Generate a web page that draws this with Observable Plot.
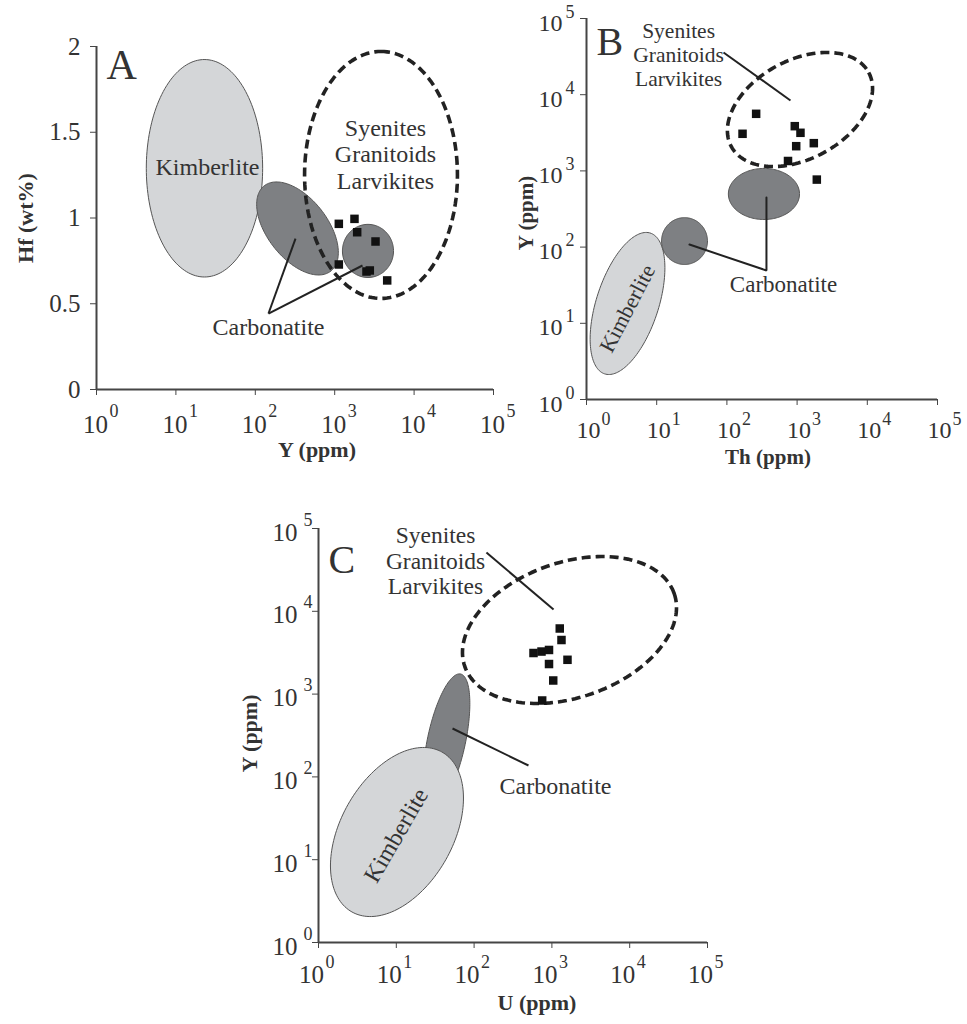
<!DOCTYPE html>
<html><head><meta charset="utf-8">
<script src="https://cdn.jsdelivr.net/npm/d3@7"></script>
<script src="https://cdn.jsdelivr.net/npm/@observablehq/plot@0.6"></script>
<style>
body{margin:0;background:#fff;}
#wrap{position:relative;width:967px;height:1024px;background:#fff;}
#wrap svg{position:absolute;overflow:visible;}
</style></head><body><div id="wrap"></div>
<script>
// ---------- data ----------
const decades = [1, 10, 100, 1000, 10000, 100000];
const decadeBase = ["10", "10", "10", "10", "10", "10"];
const decadeExp = ["0", "1", "2", "3", "4", "5"];
const hfTicks = [0, 0.5, 1, 1.5, 2];
const hfTickLabels = ["0", "0.5", "1", "1.5", "2"];

// Panel A: Y (ppm) vs Hf (wt%)
const samplesA_Y  = [1127, 1775, 1919, 3266, 1127, 2513, 2767, 4583];
const samplesA_Hf = [0.966, 0.995, 0.917, 0.863, 0.729, 0.688, 0.694, 0.636];
// Panel B: Th (ppm) vs Y (ppm)
const samplesB_Th = [167, 261, 927, 1117, 971, 1730, 742, 1909];
const samplesB_Y  = [3069, 5613, 3863, 3162, 2110, 2312, 1349, 769];
// Panel C: U (ppm) vs Y (ppm)
const samplesC_U = [1262, 1328, 580, 735, 918, 1586, 918, 1040, 750];
const samplesC_Y = [6200, 4500, 3135, 3266, 3412, 2596, 2308, 1460, 837];

// Compositional fields: centre (cx, cy), end of one semi-axis (ex, ey),
// ratio of the other semi-axis to that one
const fieldsA = [
  {kind: "kimberlite",  cx: 22.9, cy: 1.29,  ex: 22.9, ey: 1.924, ratio: 0.535},
  {kind: "carbonatite", cx: 340,  cy: 0.939, ex: 891,  ey: 0.690, ratio: 0.556},
  {kind: "felsic",      cx: 3830, cy: 1.251, ex: 3830, ey: 1.971, ratio: 0.619},
  {kind: "carbonatite", cx: 2625, cy: 0.808, ex: 5505, ey: 0.808, ratio: 1.04}
];
const fieldsB = [
  {kind: "kimberlite",  cx: 3.84, cy: 18.2, ex: 8.13,  ey: 152.7, ratio: 0.42},
  {kind: "carbonatite", cx: 24.9, cy: 120,  ex: 52.9,  ey: 120,   ratio: 1.02},
  {kind: "carbonatite", cx: 337,  cy: 498,  ex: 1082,  ey: 498,   ratio: 0.718},
  {kind: "felsic",      cx: 1099, cy: 6395, ex: 10470, ey: 19550, ratio: 0.632}
];
const fieldsC = [
  {kind: "carbonatite", cx: 44.2, cy: 275,  ex: 67.0,  ey: 1749,  ratio: 0.28},
  {kind: "kimberlite",  cx: 10.2, cy: 21.6, ex: 38.7,  ey: 199.4, ratio: 0.612},
  {kind: "felsic",      cx: 1683, cy: 5943, ex: 37300, ey: 16400, ratio: 0.609}
];

const felsicLabel = "Syenites\nGranitoids\nLarvikites";

// ---------- styling ----------
const FONT = '"Liberation Serif","Times New Roman",serif';
const INK = "#333";
const AXIS = "#454545";
const LIGHT = "#d4d6d8";
const DARK = "#7e8083";
const fieldStyle = {
  kimberlite: {fill: LIGHT, stroke: "#555", strokeWidth: 1},
  carbonatite: {fill: DARK, stroke: "#555", strokeWidth: 1},
  felsic: {fill: "none", stroke: "#222", strokeWidth: 3.6, strokeDasharray: "9,5", strokeLinecap: "butt"}
};

function outline(f, sx, sy, n = 160) {
  const cx = sx.apply(f.cx), cy = sy.apply(f.cy);
  const ux = sx.apply(f.ex) - cx, uy = sy.apply(f.ey) - cy;
  const vx = -uy * f.ratio, vy = ux * f.ratio;
  return d3.range(n).map(i => {
    const t = 2 * Math.PI * i / n, c = Math.cos(t), s = Math.sin(t);
    return {x: sx.invert(cx + ux * c + vx * s), y: sy.invert(cy + uy * c + vy * s)};
  });
}
function fieldMarks(fields, sx, sy) {
  return fields.map(f => Plot.line(outline(f, sx, sy), {x: "x", y: "y", curve: "linear-closed", ...fieldStyle[f.kind]}));
}
// log-decade tick labels "10" with a raised exponent
function xDecadeLabels({dx, dy, expDx, expDy, size = 25, expSize = 18}) {
  return [
    Plot.text(decades, {x: d => d, text: decadeBase, frameAnchor: "bottom", dx, dy, textAnchor: "middle", lineAnchor: "bottom", fontSize: size, fill: INK}),
    Plot.text(decades, {x: d => d, text: decadeExp, frameAnchor: "bottom", dx: expDx, dy: expDy, textAnchor: "start", lineAnchor: "bottom", fontSize: expSize, fill: INK})
  ];
}
function yDecadeLabels({dx, dy, expDx, expDy, size = 24, expSize = 18}) {
  return [
    Plot.text(decades, {y: d => d, text: decadeBase, frameAnchor: "left", dx, dy, textAnchor: "end", lineAnchor: "bottom", fontSize: size, fill: INK}),
    Plot.text(decades, {y: d => d, text: decadeExp, frameAnchor: "left", dx: expDx, dy: expDy, textAnchor: "start", lineAnchor: "bottom", fontSize: expSize, fill: INK})
  ];
}
function yTitle(label, dx, dy, size) {
  return Plot.text([label], {text: d => d, frameAnchor: "left", dx, dy, rotate: -90, textAnchor: "middle", lineAnchor: "middle", fontSize: size, fontWeight: "bold", fill: INK});
}
function xTitle(label, dx, dy, size) {
  return Plot.text([label], {text: d => d, frameAnchor: "bottom", dx, dy, textAnchor: "middle", lineAnchor: "bottom", fontSize: size, fontWeight: "bold", fill: INK});
}
function place(svg, left, top) {
  svg.style.left = left + "px";
  svg.style.top = top + "px";
  document.getElementById("wrap").appendChild(svg);
}
const baseStyle = {fontFamily: FONT, color: AXIS, background: "transparent", overflow: "visible"};

// ---------- Panel A ----------
{
  const g = {width: 500, height: 470, marginLeft: 96, marginRight: 7, marginTop: 46, marginBottom: 81};
  const xd = [1, 1e5], yd = [0, 2];
  const sx = Plot.scale({x: {type: "log", domain: xd, range: [g.marginLeft, g.width - g.marginRight]}});
  const sy = Plot.scale({y: {type: "linear", domain: yd, range: [g.height - g.marginBottom, g.marginTop]}});
  const svg = Plot.plot({
    ...g, style: baseStyle,
    x: {type: "log", domain: xd}, y: {domain: yd},
    marks: [
      ...fieldMarks(fieldsA, sx, sy),
      Plot.dot(samplesA_Y, {x: samplesA_Y, y: samplesA_Hf, symbol: "square", r: 4.8, fill: "#111", stroke: "none"}),
      Plot.link([{x1: 146.6, y1: 0.443, x2: 321, y2: 0.880}, {x1: 146.6, y1: 0.443, x2: 2239, y2: 0.723}],
        {x1: "x1", y1: "y1", x2: "x2", y2: "y2", stroke: "#222", strokeWidth: 2}),
      Plot.text([{t: "Kimberlite", x: 25, y: 1.248}], {x: "x", y: "y", text: "t", fontSize: 24, lineAnchor: "bottom", fill: INK}),
      Plot.text([{t: felsicLabel, x: 4365, y: 1.172}], {x: "x", y: "y", text: "t", fontSize: 24, lineHeight: 1.1, lineAnchor: "bottom", fill: INK}),
      Plot.text([{t: "Carbonatite", x: 146.6, y: 0.315}], {x: "x", y: "y", text: "t", fontSize: 24, lineAnchor: "bottom", fill: INK}),
      Plot.text(["A"], {text: d => d, frameAnchor: "top-left", dx: 10, dy: 32, textAnchor: "start", lineAnchor: "bottom", fontSize: 42, fill: INK}),
      Plot.ruleY([0], {stroke: AXIS, strokeWidth: 2}),
      Plot.ruleX([1], {stroke: AXIS, strokeWidth: 2}),
      Plot.axisX({ticks: decades, tickSize: 6, fill: "none", label: null, stroke: AXIS}),
      ...xDecadeLabels({dx: -1, dy: 43, expDx: 13, expDy: 27}),
      Plot.axisY({ticks: hfTicks, tickSize: 6, fill: "none", label: null, stroke: AXIS}),
      Plot.text(hfTicks, {y: d => d, text: hfTickLabels, frameAnchor: "left", dx: -16, textAnchor: "end", lineAnchor: "middle", fontSize: 25, fill: INK}),
      xTitle("Y (ppm)", 22, 67, 22),
      yTitle("Hf (wt%)", -71, 0, 22)
    ]
  });
  place(svg, 0, 0);
}

// ---------- Panel B ----------
{
  const g = {width: 467, height: 470, marginLeft: 86, marginRight: 30, marginTop: 18, marginBottom: 71};
  const xd = [1, 1e5], yd = [1, 1e5];
  const sx = Plot.scale({x: {type: "log", domain: xd, range: [g.marginLeft, g.width - g.marginRight]}});
  const sy = Plot.scale({y: {type: "log", domain: yd, range: [g.height - g.marginBottom, g.marginTop]}});
  const svg = Plot.plot({
    ...g, style: baseStyle,
    x: {type: "log", domain: xd}, y: {type: "log", domain: yd},
    marks: [
      ...fieldMarks(fieldsB, sx, sy),
      Plot.dot(samplesB_Th, {x: samplesB_Th, y: samplesB_Y, symbol: "square", r: 4.8, fill: "#111", stroke: "none"}),
      Plot.link([{x1: 89.5, y1: 35800, x2: 805, y2: 8395}], {x1: "x1", y1: "y1", x2: "x2", y2: "y2", stroke: "#222", strokeWidth: 2}),
      Plot.line([{x: 29.3, y: 108}, {x: 366, y: 49.3}, {x: 366, y: 448}], {x: "x", y: "y", stroke: "#222", strokeWidth: 2, strokeLinejoin: "miter"}),
      Plot.text([{t: "Kimberlite", x: 3.84, y: 15.6}], {x: "x", y: "y", text: "t", rotate: -62.5, fontSize: 22, fill: INK}),
      Plot.text([{t: felsicLabel, x: 20.5, y: 12820}], {x: "x", y: "y", text: "t", fontSize: 21.5, lineHeight: 1.12, lineAnchor: "bottom", fill: INK}),
      Plot.text([{t: "Carbonatite", x: 640, y: 25.4}], {x: "x", y: "y", text: "t", fontSize: 23, lineAnchor: "bottom", fill: INK}),
      Plot.text(["B"], {text: d => d, frameAnchor: "top-left", dx: 10, dy: 36, textAnchor: "start", lineAnchor: "bottom", fontSize: 40, fill: INK}),
      Plot.ruleY([1], {stroke: AXIS, strokeWidth: 2}),
      Plot.ruleX([1], {stroke: AXIS, strokeWidth: 2}),
      Plot.axisX({ticks: decades, tickSize: 6, fill: "none", label: null, stroke: AXIS}),
      ...xDecadeLabels({dx: 2, dy: 38, expDx: 15, expDy: 25, size: 24}),
      Plot.axisY({ticks: decades, tickSize: 6, fill: "none", label: null, stroke: AXIS}),
      ...yDecadeLabels({dx: -24, dy: 12, expDx: -21, expDy: -1}),
      xTitle("Th (ppm)", 6, 64, 21),
      yTitle("Y (ppm)", -60, 4, 21)
    ]
  });
  place(svg, 500, 0);
}

// ---------- Panel C ----------
{
  const g = {width: 520, height: 524, marginLeft: 88, marginRight: 43, marginTop: 28, marginBottom: 82};
  const xd = [1, 1e5], yd = [1, 1e5];
  const sx = Plot.scale({x: {type: "log", domain: xd, range: [g.marginLeft, g.width - g.marginRight]}});
  const sy = Plot.scale({y: {type: "log", domain: yd, range: [g.height - g.marginBottom, g.marginTop]}});
  const svg = Plot.plot({
    ...g, style: baseStyle,
    x: {type: "log", domain: xd}, y: {type: "log", domain: yd},
    marks: [
      ...fieldMarks(fieldsC, sx, sy),
      Plot.dot(samplesC_U, {x: samplesC_U, y: samplesC_Y, symbol: "square", r: 4.8, fill: "#111", stroke: "none"}),
      Plot.link([{x1: 144, y1: 51300, x2: 1050, y2: 10510}, {x1: 52.8, y1: 384, x2: 500, y2: 137.3}],
        {x1: "x1", y1: "y1", x2: "x2", y2: "y2", stroke: "#222", strokeWidth: 2}),
      Plot.text([{t: "Kimberlite", x: 9.97, y: 19.6}], {x: "x", y: "y", text: "t", rotate: -60, fontSize: 24, fill: INK}),
      Plot.text([{t: felsicLabel, x: 31.9, y: 15960}], {x: "x", y: "y", text: "t", fontSize: 23.5, lineHeight: 1.09, lineAnchor: "bottom", fill: INK}),
      Plot.text([{t: "Carbonatite", x: 1112, y: 63}], {x: "x", y: "y", text: "t", fontSize: 24, lineAnchor: "bottom", fill: INK}),
      Plot.text(["C"], {text: d => d, frameAnchor: "top-left", dx: 10, dy: 44, textAnchor: "start", lineAnchor: "bottom", fontSize: 40, fill: INK}),
      Plot.ruleY([1], {stroke: AXIS, strokeWidth: 2}),
      Plot.ruleX([1], {stroke: AXIS, strokeWidth: 2}),
      Plot.axisX({ticks: decades, tickSize: 6, fill: "none", label: null, stroke: AXIS}),
      ...xDecadeLabels({dx: -7, dy: 40, expDx: 7, expDy: 25}),
      Plot.axisY({ticks: decades, tickSize: 6, fill: "none", label: null, stroke: AXIS}),
      ...yDecadeLabels({dx: -21, dy: 12, expDx: -15, expDy: -3, size: 25}),
      xTitle("U (ppm)", 24, 67, 22),
      yTitle("Y (ppm)", -69, -2, 22)
    ]
  });
  place(svg, 230, 500);
}
</script></body></html>
